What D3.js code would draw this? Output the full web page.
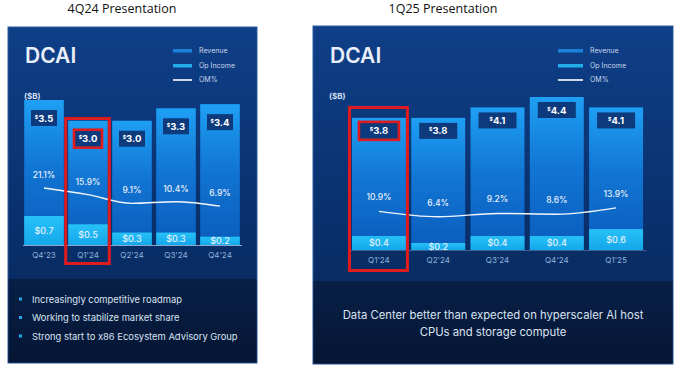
<!DOCTYPE html>
<html lang="en">
<head>
<meta charset="UTF-8" />
<title>DCAI 4Q24 vs 1Q25</title>
<script src="https://d3js.org/d3.v7.min.js"></script>
<style>
  body { margin: 0; background: #fff; }
  svg { display: block; font-family: Inter, "Noto Sans", sans-serif; }
  .pres-title { font-family: "Open Sans", "Liberation Sans", sans-serif; font-size: 12.5px; fill: #111; }
  .dcai { font-size: 21px; font-weight: 600; fill: #e9eff9; }
  .unit { font-size: 8px; font-weight: 700; fill: #d3def0; }
  .legend text { font-size: 7px; fill: #c9d7ec; }
  .rev-label { font-weight: 700; fill: #ffffff; }
  .op-label { font-size: 9px; font-weight: 500; fill: #e2f1fd; }
  .om-label { font-size: 8.5px; font-weight: 500; fill: #e8f0fa; }
  .axis-label { font-size: 8px; fill: #8fb2da; }
  .note { fill: #d9e3f1; }
</style>
</head>
<body>
<script>
// 4Q24 presentation
var quarters4Q24 = ["Q4'23", "Q1'24", "Q2'24", "Q3'24", "Q4'24"];
var revenue4Q24 = [3.5, 3.0, 3.0, 3.3, 3.4];
var opIncome4Q24 = [0.7, 0.5, 0.3, 0.3, 0.2];
var om4Q24 = [21.1, 15.9, 9.1, 10.4, 6.9];
var notes4Q24 = ["Increasingly competitive roadmap", "Working to stabilize market share", "Strong start to x86 Ecosystem Advisory Group"];

// 1Q25 presentation
var quarters1Q25 = ["Q1'24", "Q2'24", "Q3'24", "Q4'24", "Q1'25"];
var revenue1Q25 = [3.8, 3.8, 4.1, 4.4, 4.1];
var opIncome1Q25 = [0.4, 0.2, 0.4, 0.4, 0.6];
var om1Q25 = [10.9, 6.4, 9.2, 8.6, 13.9];
var notes1Q25 = ["Data Center better than expected on hyperscaler AI host", "CPUs and storage compute"];

var legendLabels = ["Revenue", "Op Income", "OM%"];
var highlightQuarter = "Q1'24";

var svg = d3.select("body").append("svg")
    .attr("width", 680)
    .attr("height", 372);

var defs = svg.append("defs");

var bg = defs.append("linearGradient").attr("id", "panelBg").attr("x1", 0).attr("y1", 0).attr("x2", 0).attr("y2", 1);
bg.append("stop").attr("offset", "0%").attr("stop-color", "#0f3f88");
bg.append("stop").attr("offset", "55%").attr("stop-color", "#09316e");
bg.append("stop").attr("offset", "100%").attr("stop-color", "#072654");

var dark = defs.append("linearGradient").attr("id", "darkBg").attr("x1", 0).attr("y1", 0).attr("x2", 0).attr("y2", 1);
dark.append("stop").attr("offset", "0%").attr("stop-color", "#071f46");
dark.append("stop").attr("offset", "100%").attr("stop-color", "#061634");

var revGrad = defs.append("linearGradient").attr("id", "revGrad").attr("x1", 0).attr("y1", 0).attr("x2", 0).attr("y2", 1);
revGrad.append("stop").attr("offset", "0%").attr("stop-color", "#1ea0f4");
revGrad.append("stop").attr("offset", "45%").attr("stop-color", "#1276d4");
revGrad.append("stop").attr("offset", "100%").attr("stop-color", "#0a5cbc");

var opGrad = defs.append("linearGradient").attr("id", "opGrad").attr("x1", 0).attr("y1", 0).attr("x2", 0).attr("y2", 1);
opGrad.append("stop").attr("offset", "0%").attr("stop-color", "#27c2f8");
opGrad.append("stop").attr("offset", "100%").attr("stop-color", "#14a6ea");

function drawPanel(p) {
    var g = svg.append("g");

    g.append("text").attr("class", "pres-title")
        .attr("x", p.titleX).attr("y", 13)
        .attr("text-anchor", "middle")
        .text(p.title);

    g.append("rect")
        .attr("x", p.box[0]).attr("y", p.box[1])
        .attr("width", p.box[2] - p.box[0]).attr("height", p.box[3] - p.box[1])
        .attr("fill", "url(#panelBg)")
        .attr("stroke", "#2c5d9e").attr("stroke-width", 1);

    g.append("rect")
        .attr("x", p.box[0] + 0.5).attr("y", p.darkTop)
        .attr("width", p.box[2] - p.box[0] - 1).attr("height", p.box[3] - p.darkTop - 0.5)
        .attr("fill", "url(#darkBg)");

    g.append("text").attr("class", "dcai")
        .attr("x", p.box[0] + 17).attr("y", 63)
        .text("DCAI");

    g.append("text").attr("class", "unit")
        .attr("x", p.box[0] + 16).attr("y", 99)
        .text("($B)");

    // legend
    var lg = g.append("g").attr("class", "legend");
    lg.append("rect").attr("x", p.legendX).attr("y", 49).attr("width", p.swatchW).attr("height", 3.5).attr("fill", "#1a82d8");
    lg.append("rect").attr("x", p.legendX).attr("y", 64).attr("width", p.swatchW).attr("height", 3.5).attr("fill", "#22ace9");
    lg.append("line").attr("x1", p.legendX).attr("x2", p.legendX + p.swatchW)
        .attr("y1", 80).attr("y2", 80).attr("stroke", "#ffffff").attr("stroke-width", 1.6);
    lg.selectAll("text").data(legendLabels).enter().append("text")
        .attr("x", p.legendX + p.swatchW + 7)
        .attr("y", function (d, i) { return 53 + i * 14.5; })
        .text(function (d) { return d; });

    var x = d3.scaleBand()
        .domain(p.quarters)
        .range(p.xRange)
        .paddingInner(p.padIn)
        .paddingOuter(0.05);

    var y = d3.scaleLinear()
        .domain([0, p.yMax])
        .range([p.base, p.yTop]);

    var yOm = d3.scaleLinear()
        .domain([0, p.omMax])
        .range(p.omRange);

    var rows = p.quarters.map(function (q, i) {
        return { q: q, rev: p.revenue[i], op: p.opIncome[i], om: p.om[i] };
    });

    g.selectAll(".rev").data(rows).enter().append("rect")
        .attr("x", function (d) { return x(d.q); })
        .attr("y", function (d) { return y(d.rev); })
        .attr("width", x.bandwidth())
        .attr("height", function (d) { return y(0) - y(d.rev); })
        .attr("fill", "url(#revGrad)");

    g.selectAll(".op").data(rows).enter().append("rect")
        .attr("x", function (d) { return x(d.q); })
        .attr("y", function (d) { return y(d.op); })
        .attr("width", x.bandwidth())
        .attr("height", function (d) { return y(0) - y(d.op); })
        .attr("fill", "url(#opGrad)");

    // baseline
    g.append("line")
        .attr("x1", p.xRange[0] + 1).attr("x2", p.xRange[1])
        .attr("y1", p.base + 0.5).attr("y2", p.base + 0.5)
        .attr("stroke", "#a9c4e4").attr("stroke-width", 1).attr("opacity", p.baseOpacity);

    // revenue label boxes
    var rl = g.selectAll(".revlab").data(rows).enter().append("g");
    rl.append("rect")
        .attr("x", function (d) { return x(d.q) + x.bandwidth() / 2 - p.labW / 2; })
        .attr("y", function (d) { return y(d.rev) + p.labOff; })
        .attr("width", p.labW).attr("height", 16)
        .attr("fill", "#0c3a7c");
    var rt = rl.append("text").attr("class", "rev-label")
        .attr("x", function (d) { return x(d.q) + x.bandwidth() / 2; })
        .attr("y", function (d) { return y(d.rev) + p.labOff + 11.5; })
        .attr("text-anchor", "middle")
        .style("font-size", p.labFont + "px");
    rt.append("tspan").attr("font-size", "0.55em").attr("dy", -3).text("$");
    rt.append("tspan").attr("dy", 3).text(function (d) { return d.rev.toFixed(1); });

    // op income labels
    g.selectAll(".oplab").data(rows).enter().append("text")
        .attr("class", "op-label")
        .attr("x", function (d) { return x(d.q) + x.bandwidth() / 2; })
        .attr("y", function (d) { return (y(d.op) + y(0)) / 2 + 3.3; })
        .attr("text-anchor", "middle")
        .text(function (d) { return "$" + d.op.toFixed(1); });

    // OM% line
    var line = d3.line()
        .x(function (d) { return x(d.q) + x.bandwidth() / 2; })
        .y(function (d) { return yOm(d.om); })
        .curve(d3.curveMonotoneX);
    g.append("path").datum(rows)
        .attr("d", line)
        .attr("fill", "none")
        .attr("stroke", "#f2f6fc")
        .attr("stroke-width", 1.4);

    g.selectAll(".omlab").data(rows).enter().append("text")
        .attr("class", "om-label")
        .attr("x", function (d) { return x(d.q) + x.bandwidth() / 2; })
        .attr("y", function (d) { return yOm(d.om) - p.omOff; })
        .attr("text-anchor", "middle")
        .text(function (d) { return d.om.toFixed(1) + "%"; });

    // x labels
    g.selectAll(".xlab").data(p.quarters).enter().append("text")
        .attr("class", "axis-label")
        .attr("x", function (d) { return x(d) + x.bandwidth() / 2; })
        .attr("y", p.base + 13)
        .attr("text-anchor", "middle")
        .text(function (d) { return d; });

    // highlight boxes
    var hx = x(highlightQuarter);
    var hRev = p.revenue[p.quarters.indexOf(highlightQuarter)];
    g.append("rect")
        .attr("x", hx - 2.5).attr("y", p.hlTop)
        .attr("width", x.bandwidth() + 4).attr("height", p.hlBottom - p.hlTop)
        .attr("fill", "none").attr("stroke", "#e01b1f").attr("stroke-width", 3);
    g.append("rect")
        .attr("x", hx + x.bandwidth() / 2 - p.labW / 2 - 1).attr("y", y(hRev) + p.labOff - 1)
        .attr("width", p.labW + 2).attr("height", 18)
        .attr("fill", "none").attr("stroke", "#e01b1f").attr("stroke-width", 2.6);

    // notes
    if (p.bullets) {
        var nt = g.selectAll(".note").data(p.notes).enter().append("g");
        nt.append("rect")
            .attr("x", p.box[0] + 11).attr("y", function (d, i) { return 297.5 + i * 18.5; })
            .attr("width", 3).attr("height", 3).attr("fill", "#25a9e6");
        nt.append("text").attr("class", "note")
            .attr("x", p.box[0] + 24)
            .attr("y", function (d, i) { return 302.5 + i * 18.5; })
            .style("font-size", "9.4px")
            .text(function (d) { return d; });
    } else {
        g.selectAll(".note").data(p.notes).enter().append("text")
            .attr("class", "note")
            .attr("x", (p.box[0] + p.box[2]) / 2)
            .attr("y", function (d, i) { return 319 + i * 16.5; })
            .attr("text-anchor", "middle")
            .style("font-size", "11.3px")
            .text(function (d) { return d; });
    }
}

drawPanel({
    title: "4Q24 Presentation", titleX: 122,
    box: [8, 27, 257, 363], darkTop: 279,
    legendX: 173, swatchW: 19,
    quarters: quarters4Q24, revenue: revenue4Q24, opIncome: opIncome4Q24, om: om4Q24,
    xRange: [22, 242], padIn: 0.1,
    base: 245, yMax: 3.5, yTop: 100, baseOpacity: 0.8,
    omMax: 21.1, omRange: [215, 188], omOff: 10,
    labW: 26, labOff: 10, labFont: 9.5,
    hlTop: 118.5, hlBottom: 263.5,
    notes: notes4Q24, bullets: true
});

drawPanel({
    title: "1Q25 Presentation", titleX: 443,
    box: [313, 26, 673, 364], darkTop: 281,
    legendX: 558, swatchW: 25,
    quarters: quarters1Q25, revenue: revenue1Q25, opIncome: opIncome1Q25, om: om1Q25,
    xRange: [349, 646], padIn: 0.09,
    base: 250, yMax: 4.4, yTop: 97, baseOpacity: 0.35,
    omMax: 14, omRange: [224.5, 207.7], omOff: 11,
    labW: 38, labOff: 5, labFont: 9.5,
    hlTop: 107.5, hlBottom: 270.5,
    notes: notes1Q25, bullets: false
});
</script>
</body>
</html>
